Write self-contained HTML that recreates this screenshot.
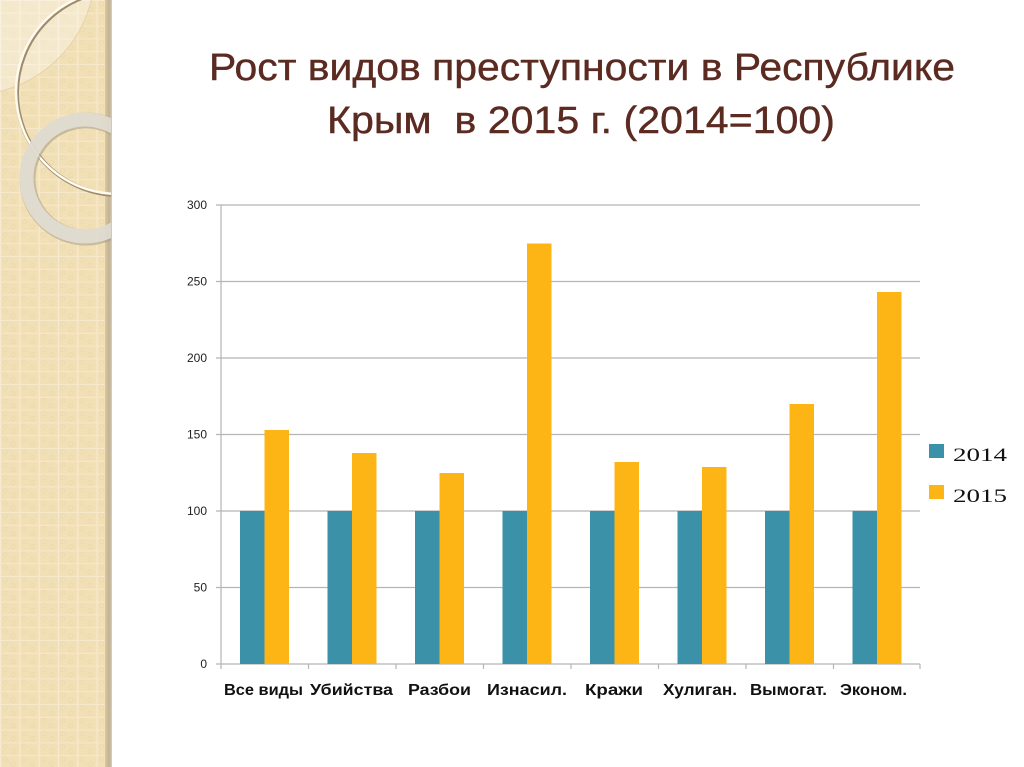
<!DOCTYPE html>
<html>
<head>
<meta charset="utf-8">
<style>
  html,body{margin:0;padding:0;background:#fff;}
  body{width:1024px;height:767px;overflow:hidden;}
  svg{display:block;}
  text{white-space:pre;}
</style>
</head>
<body>
<svg width="1024" height="767" viewBox="0 0 1024 767" xmlns="http://www.w3.org/2000/svg">
  <defs>
    <pattern id="grid" x="0" y="0" width="19.3" height="12.8" patternUnits="userSpaceOnUse">
      <rect width="19.3" height="12.8" fill="#f1dfb6"/>
      <circle cx="5" cy="4" r="2.2" fill="none" stroke="#ecd7a9" stroke-width="0.7"/>
      <circle cx="13" cy="9" r="2.2" fill="none" stroke="#ecd7a9" stroke-width="0.7"/>
      <rect x="0" y="0" width="1.2" height="12.8" fill="#f7ead0"/>
      <rect x="0" y="0" width="19.3" height="1" fill="#f6e8cb"/>
    </pattern>
    <clipPath id="strip"><rect x="0" y="0" width="111" height="767"/></clipPath>
    <linearGradient id="band" x1="0" x2="1" y1="0" y2="0">
      <stop offset="0" stop-color="#d9c8a4"/>
      <stop offset="0.6" stop-color="#c2b290"/>
      <stop offset="1" stop-color="#d8cdb8"/>
    </linearGradient>
  </defs>

  <!-- left decorative strip -->
  <rect x="0" y="0" width="106" height="767" fill="url(#grid)"/>
  <rect x="105" y="0" width="7" height="767" fill="url(#band)"/>
  <g clip-path="url(#strip)">
    <circle cx="-30" cy="-30" r="125" fill="#ffffff" fill-opacity="0.32" stroke="#e6d3a8" stroke-width="1"/>
    <circle cx="119" cy="93" r="102" fill="none" stroke="#9d8b6c" stroke-width="4"/>
    <circle cx="118" cy="92" r="102" fill="none" stroke="#fffaee" stroke-width="2.5"/>
    <circle cx="86" cy="179" r="58.5" fill="none" stroke="#a69a82" stroke-width="16" stroke-opacity="0.55"/>
    <circle cx="85" cy="178" r="58.5" fill="none" stroke="#e4e0d8" stroke-width="14" stroke-opacity="0.85"/>
  </g>

  <!-- title -->
  <g font-family="'Liberation Sans', sans-serif" font-size="38" fill="#5b2a21" stroke="#5b2a21" stroke-width="0.4">
    <text x="209" y="80" textLength="746" lengthAdjust="spacingAndGlyphs">Рост видов преступности в Республике</text>
    <text x="327" y="133" textLength="508" lengthAdjust="spacingAndGlyphs">Крым  в 2015 г. (2014=100)</text>
  </g>

  <!-- gridlines -->
  <g stroke="#b5b5b5" stroke-width="1.2">
    <line x1="216" y1="205" x2="920" y2="205"/>
    <line x1="216" y1="281.5" x2="920" y2="281.5"/>
    <line x1="216" y1="358" x2="920" y2="358"/>
    <line x1="216" y1="434.5" x2="920" y2="434.5"/>
    <line x1="216" y1="511" x2="920" y2="511"/>
    <line x1="216" y1="587.5" x2="920" y2="587.5"/>
    <line x1="216" y1="664" x2="920" y2="664"/>
    <line x1="221" y1="205" x2="221" y2="664"/>
    <line x1="221" y1="664" x2="221" y2="669"/>
    <line x1="308.5" y1="664" x2="308.5" y2="669"/>
    <line x1="396" y1="664" x2="396" y2="669"/>
    <line x1="483.5" y1="664" x2="483.5" y2="669"/>
    <line x1="571" y1="664" x2="571" y2="669"/>
    <line x1="658.5" y1="664" x2="658.5" y2="669"/>
    <line x1="746" y1="664" x2="746" y2="669"/>
    <line x1="833.5" y1="664" x2="833.5" y2="669"/>
    <line x1="920" y1="664" x2="920" y2="669"/>
  </g>

  <!-- bars: 2014 -->
  <g fill="#3a91a8">
    <rect x="240" y="511" width="24.5" height="153"/>
    <rect x="327.5" y="511" width="24.5" height="153"/>
    <rect x="415" y="511" width="24.5" height="153"/>
    <rect x="502.5" y="511" width="24.5" height="153"/>
    <rect x="590" y="511" width="24.5" height="153"/>
    <rect x="677.5" y="511" width="24.5" height="153"/>
    <rect x="765" y="511" width="24.5" height="153"/>
    <rect x="852.5" y="511" width="24.5" height="153"/>
  </g>
  <!-- bars: 2015 -->
  <g fill="#fcb514">
    <rect x="264.5" y="430" width="24.5" height="234"/>
    <rect x="352" y="453" width="24.5" height="211"/>
    <rect x="439.5" y="473" width="24.5" height="191"/>
    <rect x="527" y="243.5" width="24.5" height="420.5"/>
    <rect x="614.5" y="462" width="24.5" height="202"/>
    <rect x="702" y="467" width="24.5" height="197"/>
    <rect x="789.5" y="404" width="24.5" height="260"/>
    <rect x="877" y="292" width="24.5" height="372"/>
  </g>

  <!-- y tick labels -->
  <g font-family="'Liberation Sans', sans-serif" font-size="12" fill="#222" text-anchor="end">
    <text x="207" y="209">300</text>
    <text x="207" y="285.5">250</text>
    <text x="207" y="362">200</text>
    <text x="207" y="438.5">150</text>
    <text x="207" y="515">100</text>
    <text x="207" y="591.5">50</text>
    <text x="207" y="668">0</text>
  </g>

  <!-- x category labels -->
  <g font-family="'Liberation Sans', sans-serif" font-size="16" font-weight="bold" fill="#111">
    <text x="224" y="695" textLength="79" lengthAdjust="spacingAndGlyphs">Все виды</text>
    <text x="310" y="695" textLength="83" lengthAdjust="spacingAndGlyphs">Убийства</text>
    <text x="408" y="695" textLength="63" lengthAdjust="spacingAndGlyphs">Разбои</text>
    <text x="487" y="695" textLength="80" lengthAdjust="spacingAndGlyphs">Изнасил.</text>
    <text x="585" y="695" textLength="58" lengthAdjust="spacingAndGlyphs">Кражи</text>
    <text x="663" y="695" textLength="74" lengthAdjust="spacingAndGlyphs">Хулиган.</text>
    <text x="750" y="695" textLength="77" lengthAdjust="spacingAndGlyphs">Вымогат.</text>
    <text x="840" y="695" textLength="67" lengthAdjust="spacingAndGlyphs">Эконом.</text>
  </g>

  <!-- legend -->
  <rect x="929" y="444" width="15" height="14" fill="#3a91a8"/>
  <rect x="929" y="485" width="15" height="14" fill="#fcb514"/>
  <g font-family="'Liberation Serif', serif" font-size="19" fill="#111">
    <text x="953" y="461" textLength="54" lengthAdjust="spacingAndGlyphs">2014</text>
    <text x="953" y="502" textLength="54" lengthAdjust="spacingAndGlyphs">2015</text>
  </g>
</svg>
</body>
</html>
